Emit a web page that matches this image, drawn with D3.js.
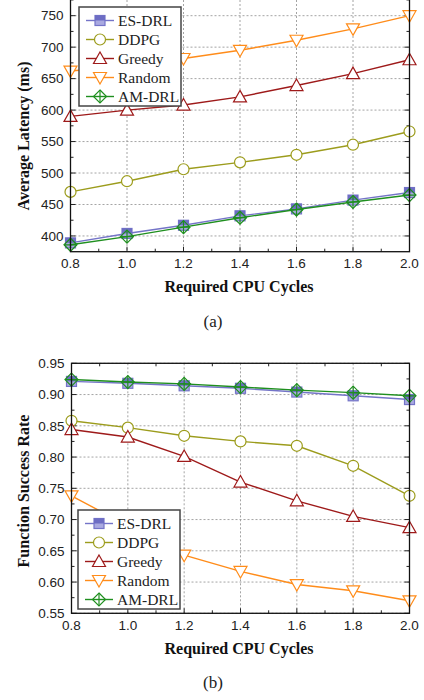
<!DOCTYPE html>
<html>
<head>
<meta charset="utf-8">
<script src="https://cdn.jsdelivr.net/npm/d3@7"></script>
<style>
  body { margin: 0; background: #fff; }
  svg { display: block; }
</style>
</head>
<body>
<div id="wrapper"></div>
<script>
// data
const xValues = [0.8, 1.0, 1.2, 1.4, 1.6, 1.8, 2.0];
const methods = ["ES-DRL", "DDPG", "Greedy", "Random", "AM-DRL"];

// (a) average latency (ms)
const latencyEsdrl  = [389, 404, 417, 432, 443, 457, 469];
const latencyDdpg   = [470, 487, 506, 517, 529, 545, 566];
const latencyGreedy = [590, 600, 608, 621, 639, 658, 680];
const latencyRandom = [662, 670, 682, 695, 711, 729, 750];
const latencyAmdrl  = [386, 399, 414, 429, 442, 454, 465];

// (b) function success rate
const successEsdrl  = [0.921, 0.918, 0.914, 0.910, 0.904, 0.898, 0.892];
const successDdpg   = [0.858, 0.847, 0.834, 0.825, 0.818, 0.786, 0.738];
const successGreedy = [0.844, 0.832, 0.801, 0.760, 0.730, 0.705, 0.687];
const successRandom = [0.738, 0.690, 0.643, 0.617, 0.596, 0.586, 0.570];
const successAmdrl  = [0.924, 0.920, 0.917, 0.912, 0.907, 0.903, 0.898];

const xTicks = [0.8, 1.0, 1.2, 1.4, 1.6, 1.8, 2.0];
const xMinorTicks = [0.9, 1.1, 1.3, 1.5, 1.7, 1.9];
const latencyTicks = [400, 450, 500, 550, 600, 650, 700, 750];
const latencyMinorTicks = [425, 475, 525, 575, 625, 675, 725, 775];
const successTicks = [0.55, 0.60, 0.65, 0.70, 0.75, 0.80, 0.85, 0.90, 0.95];
const successMinorTicks = [0.575, 0.625, 0.675, 0.725, 0.775, 0.825, 0.875, 0.925];

const styles = {
    "ES-DRL": { color: "#7474c8", marker: "square" },
    "DDPG":   { color: "#9c9c1c", marker: "circle" },
    "Greedy": { color: "#9e1a1a", marker: "up" },
    "Random": { color: "#ff8c1a", marker: "down" },
    "AM-DRL": { color: "#1f8f1f", marker: "diamond" }
};

const svg = d3.select("#wrapper").append("svg")
    .attr("width", 424)
    .attr("height", 700);

function drawMarker(g, type, color, cx, cy) {
    if (type === "square") {
        g.append("rect").attr("x", cx - 5).attr("y", cy - 5).attr("width", 10).attr("height", 10)
            .attr("fill", "#a9a9e0").attr("stroke", color).attr("stroke-width", 1.2);
        g.append("rect").attr("x", cx - 5).attr("y", cy - 5).attr("width", 10).attr("height", 5)
            .attr("fill", "#6d6dc4");
    } else if (type === "circle") {
        g.append("circle").attr("cx", cx).attr("cy", cy).attr("r", 5.5)
            .attr("fill", "#fff").attr("stroke", color).attr("stroke-width", 1.2);
    } else if (type === "up") {
        g.append("path").attr("d", `M${cx},${cy - 6.5}L${cx + 6.5},${cy + 5}L${cx - 6.5},${cy + 5}Z`)
            .attr("fill", "#fff").attr("stroke", color).attr("stroke-width", 1.2);
    } else if (type === "down") {
        g.append("path").attr("d", `M${cx},${cy + 6.5}L${cx + 6.5},${cy - 5}L${cx - 6.5},${cy - 5}Z`)
            .attr("fill", "#fff").attr("stroke", color).attr("stroke-width", 1.2);
    } else if (type === "diamond") {
        g.append("path").attr("d", `M${cx},${cy - 6.5}L${cx + 6.5},${cy}L${cx},${cy + 6.5}L${cx - 6.5},${cy}Z`)
            .attr("fill", "none").attr("stroke", color).attr("stroke-width", 1.2);
        g.append("path").attr("d", `M${cx - 6.5},${cy}H${cx + 6.5}M${cx},${cy - 6.5}V${cy + 6.5}`)
            .attr("stroke", color).attr("stroke-width", 1.2);
    }
}

function buildPanel(opt) {
    const xScaler = d3.scaleLinear().domain([0.8, 2.0]).range([opt.left, opt.right]);
    const yScaler = d3.scaleLinear().domain(opt.yDomain).range([opt.bottom, opt.top]);
    const g = svg.append("g");

    // grid
    g.selectAll(".hgrid").data(opt.yTicks).join("line")
        .attr("x1", opt.left).attr("x2", opt.right)
        .attr("y1", d => yScaler(d)).attr("y2", d => yScaler(d))
        .attr("stroke", "#9a9a9a").attr("stroke-width", 0.9).attr("stroke-dasharray", "2,2");
    g.selectAll(".vgrid").data(xTicks.slice(1, -1)).join("line")
        .attr("x1", d => xScaler(d)).attr("x2", d => xScaler(d))
        .attr("y1", Math.max(opt.top, 0)).attr("y2", opt.bottom)
        .attr("stroke", "#9a9a9a").attr("stroke-width", 0.9).attr("stroke-dasharray", "2,2");

    // inward ticks on all four sides
    const ticks = g.append("g").attr("stroke", "#222").attr("stroke-width", 1);
    xTicks.forEach(t => {
        ticks.append("line").attr("x1", xScaler(t)).attr("x2", xScaler(t)).attr("y1", opt.bottom).attr("y2", opt.bottom - 5);
    });
    xMinorTicks.forEach(t => {
        ticks.append("line").attr("x1", xScaler(t)).attr("x2", xScaler(t)).attr("y1", opt.bottom).attr("y2", opt.bottom - 3);
        if (opt.top >= 0) ticks.append("line").attr("x1", xScaler(t)).attr("x2", xScaler(t)).attr("y1", opt.top).attr("y2", opt.top + 3);
    });
    opt.yTicks.forEach(t => {
        ticks.append("line").attr("x1", opt.left).attr("x2", opt.left + 5).attr("y1", yScaler(t)).attr("y2", yScaler(t));
        ticks.append("line").attr("x1", opt.right).attr("x2", opt.right - 5).attr("y1", yScaler(t)).attr("y2", yScaler(t));
    });
    opt.yMinor.filter(t => t > opt.yDomain[0] && t < opt.yDomain[1]).forEach(t => {
        ticks.append("line").attr("x1", opt.left).attr("x2", opt.left + 3).attr("y1", yScaler(t)).attr("y2", yScaler(t));
        ticks.append("line").attr("x1", opt.right).attr("x2", opt.right - 3).attr("y1", yScaler(t)).attr("y2", yScaler(t));
    });

    // lines and markers
    const lineGen = d3.line()
        .x((d, i) => xScaler(xValues[i]))
        .y(d => yScaler(d));
    methods.forEach((m, k) => {
        const st = styles[m];
        const values = opt.series[k];
        g.append("path")
            .attr("d", lineGen(values))
            .attr("fill", "none")
            .attr("stroke", st.color)
            .attr("stroke-width", 1.4);
        const mg = g.append("g");
        values.forEach((v, i) => drawMarker(mg, st.marker, st.color, xScaler(xValues[i]), yScaler(v)));
    });

    // frame
    g.append("rect")
        .attr("x", opt.left).attr("y", opt.top)
        .attr("width", opt.right - opt.left).attr("height", opt.bottom - opt.top)
        .attr("fill", "none").attr("stroke", "#111").attr("stroke-width", 1.3);

    // tick labels
    g.selectAll(".ylab").data(opt.yTicks).join("text")
        .attr("x", opt.left - 7)
        .attr("y", d => yScaler(d))
        .attr("dy", "0.35em")
        .attr("text-anchor", "end")
        .attr("font-family", "Liberation Sans, Arial, sans-serif")
        .attr("font-size", 13.5)
        .attr("fill", "#222")
        .text(opt.yFormat);
    g.selectAll(".xlab").data(xTicks).join("text")
        .attr("x", d => xScaler(d))
        .attr("y", opt.bottom + 12)
        .attr("dy", "0.35em")
        .attr("text-anchor", "middle")
        .attr("font-family", "Liberation Sans, Arial, sans-serif")
        .attr("font-size", 13.5)
        .attr("fill", "#222")
        .text(d3.format(".1f"));

    // axis titles
    g.append("text")
        .attr("x", 239).attr("y", opt.bottom + 35)
        .attr("dy", "0.35em")
        .attr("text-anchor", "middle")
        .attr("font-family", "Liberation Serif, Times New Roman, serif")
        .attr("font-weight", "bold").attr("font-size", 16)
        .attr("fill", "#111")
        .text("Required CPU Cycles");
    g.append("text")
        .attr("transform", `translate(23, ${opt.yTitleCenter}) rotate(-90)`)
        .attr("dy", "0.35em")
        .attr("text-anchor", "middle")
        .attr("font-family", "Liberation Serif, Times New Roman, serif")
        .attr("font-weight", "bold").attr("font-size", 16)
        .attr("fill", "#111")
        .text(opt.yTitle);
    g.append("text")
        .attr("x", 213).attr("y", opt.bottom + 69)
        .attr("dy", "0.35em")
        .attr("text-anchor", "middle")
        .attr("font-family", "Liberation Serif, Times New Roman, serif")
        .attr("font-size", 17)
        .attr("fill", "#222")
        .text(opt.caption);

    // legend
    const lg = g.append("g");
    lg.append("rect")
        .attr("x", opt.legendX).attr("y", opt.legendY)
        .attr("width", 102).attr("height", 99)
        .attr("fill", "#fff").attr("stroke", "#444").attr("stroke-width", 1.5);
    methods.forEach((m, k) => {
        const st = styles[m];
        const y = opt.legendY + 13.5 + k * 19;
        lg.append("line")
            .attr("x1", opt.legendX + 7).attr("x2", opt.legendX + 35)
            .attr("y1", y).attr("y2", y)
            .attr("stroke", st.color).attr("stroke-width", 1.4);
        drawMarker(lg, st.marker, st.color, opt.legendX + 21, y);
        lg.append("text")
            .attr("x", opt.legendX + 39).attr("y", y)
            .attr("dy", "0.35em")
            .attr("font-family", "Liberation Serif, Times New Roman, serif")
            .attr("font-size", 15.5)
            .attr("fill", "#222")
            .text(m);
    });
}

buildPanel({
    left: 70.5, right: 409.5, top: -3.2, bottom: 251.7,
    yDomain: [375, 780],
    yTicks: latencyTicks, yMinor: latencyMinorTicks,
    yFormat: d3.format("d"),
    series: [latencyEsdrl, latencyDdpg, latencyGreedy, latencyRandom, latencyAmdrl],
    yTitle: "Average Latency (ms)", yTitleCenter: 136,
    caption: "(a)",
    legendX: 79, legendY: 7
});

buildPanel({
    left: 71.5, right: 409.5, top: 363.3, bottom: 613.3,
    yDomain: [0.55, 0.95],
    yTicks: successTicks, yMinor: successMinorTicks,
    yFormat: d3.format(".2f"),
    series: [successEsdrl, successDdpg, successGreedy, successRandom, successAmdrl],
    yTitle: "Function Success Rate", yTitleCenter: 491,
    caption: "(b)",
    legendX: 78, legendY: 510
});
</script>
</body>
</html>
